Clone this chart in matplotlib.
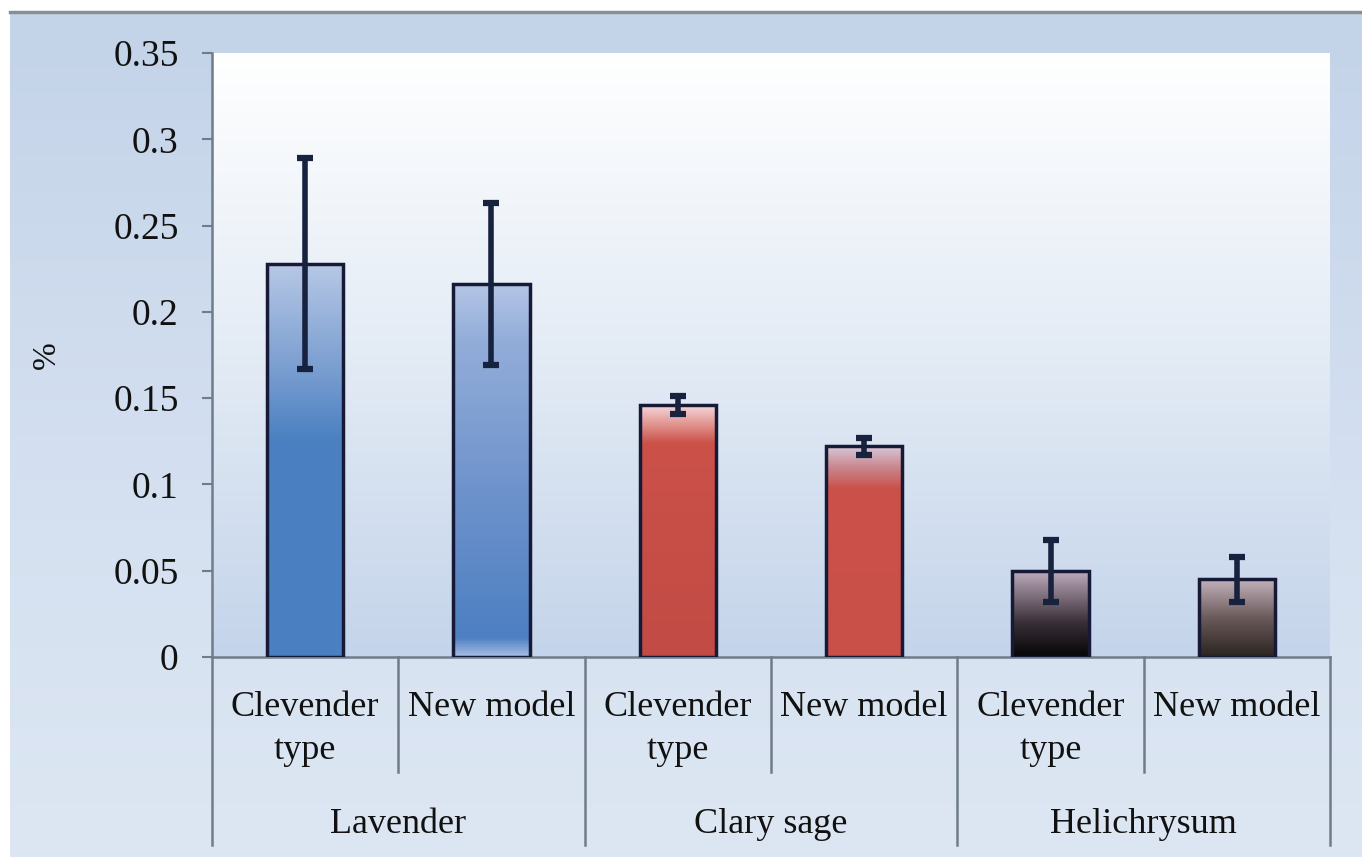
import numpy as np
import matplotlib
matplotlib.use("Agg")
import matplotlib.pyplot as plt
from matplotlib.colors import LinearSegmentedColormap
import matplotlib.transforms as mtransforms

# ---- data ----
groups = ["Lavender", "Clary sage", "Helichrysum"]
subcats = ["Clevender\ntype", "New model"]
values = [0.228, 0.216, 0.146, 0.122, 0.050, 0.045]
errors = [0.061, 0.047, 0.005, 0.005, 0.018, 0.013]
yticks = [0, 0.05, 0.1, 0.15, 0.2, 0.25, 0.3, 0.35]
yticklabels = ["0", "0.05", "0.1", "0.15", "0.2", "0.25", "0.3", "0.35"]

plt.rcParams['font.family'] = ['Liberation Serif', 'DejaVu Serif']

W, H = 1362, 857
fig = plt.figure(figsize=(W / 100, H / 100), dpi=100)
fig.patch.set_facecolor('white')

# background gradient panel
bg = fig.add_axes([10 / W, 0, 1 - 10 / W, (H - 14) / H])
bg.set_axis_off()
bgcm = LinearSegmentedColormap.from_list('bg', ['#dde7f3', '#d3dff0', '#c3d3e8'])
grad = np.linspace(0, 1, 256).reshape(-1, 1)
bg.imshow(grad, aspect='auto', cmap=bgcm, origin='lower', extent=[0, 1, 0, 1])
bg.set_xlim(0, 1); bg.set_ylim(0, 1)
# top border line
fig.add_artist(plt.Line2D([10 / W, 1], [1 - 12 / H, 1 - 12 / H], color='#8a8f96', lw=2.5))

ax = fig.add_axes([212 / W, (H - 657) / H, 1118 / W, 604 / H])
ax.set_facecolor('none')
pcm = LinearSegmentedColormap.from_list('pa', [(0, '#c4d4ea'), (0.5, '#e3ebf5'), (1, '#ffffff')])
ax.imshow(grad, aspect='auto', cmap=pcm, origin='lower', extent=[-0.5, 5.5, 0, 0.35], zorder=0)

x = np.arange(len(values))
bar_w = 0.41
cmaps = [
    LinearSegmentedColormap.from_list('b1', [(0, '#4a80c1'), (0.55, '#4b80c1'), (0.75, '#7ea1d2'), (1, '#b7c8e5')]),
    LinearSegmentedColormap.from_list('b2', [(0, '#a9bfe3'), (0.05, '#4d7fc2'), (0.45, '#6e93cc'), (0.85, '#93add9'), (1, '#b3c5e5')]),
    LinearSegmentedColormap.from_list('r1', [(0, '#c24b45'), (0.85, '#cb5149'), (0.92, '#e08f8a'), (1, '#f4d6d8')]),
    LinearSegmentedColormap.from_list('r2', [(0, '#c95049'), (0.8, '#cb5149'), (0.9, '#c9868e'), (1, '#d8c8d8')]),
    LinearSegmentedColormap.from_list('k1', [(0, '#050507'), (0.4, '#3a3038'), (1, '#c0aec0')]),
    LinearSegmentedColormap.from_list('k2', [(0, '#2a2420'), (0.5, '#6a5a5a'), (1, '#c4b2bc')]),
]
bars = ax.bar(x, values, width=bar_w, color='none', edgecolor='#161a36', linewidth=2.5, zorder=3)
for b, cm in zip(bars, cmaps):
    bx, by = b.get_x(), b.get_y()
    im = ax.imshow(grad, aspect='auto', cmap=cm, origin='lower',
                   extent=[bx, bx + b.get_width(), by, by + b.get_height()], zorder=2)
    im.set_clip_path(b)
ax.errorbar(x, values, yerr=errors, fmt='none', ecolor='#17223f', elinewidth=4,
            capsize=6, capthick=4.5, zorder=4)

ax.set_xlim(-0.5, 5.5)
ax.set_ylim(0, 0.35)
ax.set_yticks(yticks)
ax.set_yticklabels(yticklabels)
ax.set_xticks([])
for s in ['top', 'right']:
    ax.spines[s].set_visible(False)
for s in ['left', 'bottom']:
    ax.spines[s].set_color('#6f7c8a')
    ax.spines[s].set_linewidth(1.8)
ax.tick_params(axis='y', length=7, width=1.5, color='#6f7c8a', pad=17, labelsize=27,
               labelcolor='#111111')
ax.set_ylabel('%', fontsize=24, color='#111111')
ax.yaxis.set_label_coords(-0.134, 0.5)

# category separators and labels
trans = mtransforms.blended_transform_factory(ax.transData, ax.transAxes)
for i in range(7):
    xp = i - 0.5
    y0 = -0.311 if i % 2 == 0 else -0.19
    ax.plot([xp, xp], [0, y0], transform=trans, color='#6f7c8a', lw=1.8, clip_on=False)
for i in range(6):
    ax.text(i, -0.056, subcats[i % 2], transform=trans, ha='center', va='top',
            fontsize=26, linespacing=1.42, color='#111111')
for g, name in enumerate(groups):
    ax.text(2 * g + 0.5, -0.278, name, transform=trans, ha='center', va='center',
            fontsize=26, color='#111111')

fig.savefig('out.png', dpi=100)
